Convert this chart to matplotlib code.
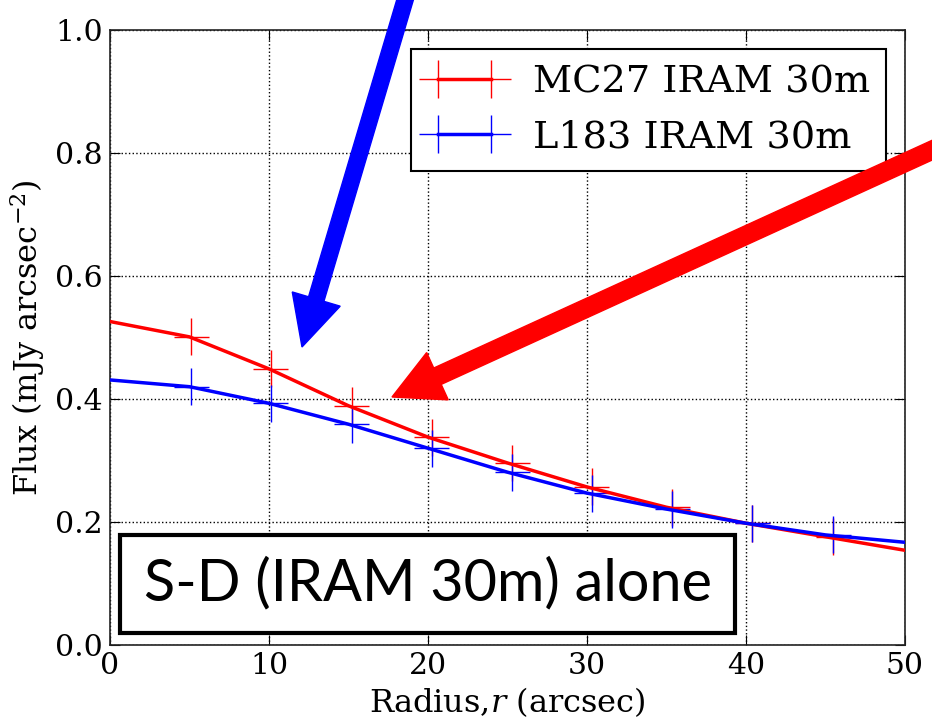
import matplotlib
matplotlib.use("Agg")
import matplotlib.pyplot as plt
from matplotlib.patches import FancyArrow, Rectangle
from matplotlib.transforms import IdentityTransform

plt.rcParams['font.family'] = 'DejaVu Serif'
plt.rcParams['mathtext.fontset'] = 'dejavuserif'

# profile values
radius = [0, 5, 10, 15, 20, 25, 30, 35, 40, 45, 50]
mc27 = [0.526, 0.501, 0.449, 0.389, 0.338, 0.296, 0.257, 0.224, 0.198, 0.176, 0.154]
l183 = [0.431, 0.420, 0.393, 0.359, 0.320, 0.281, 0.247, 0.221, 0.198, 0.179, 0.167]

# error crosses (slightly shifted from the line grid)
err_r = [5.1, 10.1, 15.2, 20.25, 25.3, 30.3, 35.35, 40.4, 45.5]
mc27_err_y = [0.501, 0.449, 0.389, 0.338, 0.296, 0.257, 0.224, 0.198, 0.176]
l183_err_y = [0.420, 0.393, 0.359, 0.320, 0.281, 0.247, 0.221, 0.198, 0.179]
xerr = 1.1
yerr = 0.03

labels = ['MC27 IRAM 30m', 'L183 IRAM 30m']
colors = ['red', 'blue']

fig = plt.figure(figsize=(9.32, 7.21), dpi=100)
ax = fig.add_axes([0.118, 0.1054, 0.853, 0.8530])

handles = []
for prof, ey, c, lab in zip([mc27, l183], [mc27_err_y, l183_err_y], colors, labels):
    ax.plot(radius, prof, color=c, lw=2.5, zorder=3)
    ax.errorbar(err_r, ey, xerr=xerr, yerr=yerr, fmt='none', ecolor=c, elinewidth=1, capsize=0, zorder=2)
    # legend-only handle (nan point, not drawn)
    h = ax.errorbar([float('nan')], [float('nan')], xerr=xerr, yerr=yerr, color=c, lw=2.5,
                    ecolor=c, elinewidth=1, capsize=0, label=lab)
    handles.append(h)

ax.set_xlim(0, 50)
ax.set_ylim(0, 1.0)
ax.set_xticks([0, 10, 20, 30, 40, 50])
ax.set_yticks([0.0, 0.2, 0.4, 0.6, 0.8, 1.0])
ax.grid(True, color='black', linestyle=':', lw=1)
ax.tick_params(direction='in', top=True, right=True, length=7, labelsize=21.5, pad=5)
for s in ax.spines.values():
    s.set_linewidth(1.2)
    s.set_color('#222222')

ax.set_xlabel('Radius,$r$ (arcsec)', fontsize=23, labelpad=4)
ax.set_ylabel('Flux (mJy arcsec$^{-2}$)', fontsize=23, labelpad=6)

leg = ax.legend(handles, labels, loc='upper right', fontsize=27.5, numpoints=2, fancybox=False,
                framealpha=1, edgecolor='black', borderaxespad=0.5)
leg.get_frame().set_linewidth(1.5)

# annotation arrows and label box, in pixel coordinates
px = IdentityTransform()
fig.add_artist(FancyArrow(408, 731, 302 - 408, 374 - 731, width=16, head_width=50, head_length=50,
                          length_includes_head=True, color='blue', transform=px, zorder=10))
fig.add_artist(FancyArrow(950, 579, 392 - 950, 324 - 579, width=18, head_width=52, head_length=50,
                          length_includes_head=True, color='red', transform=px, zorder=10))
fig.add_artist(Rectangle((120, 88), 615, 98, facecolor='white', edgecolor='black', lw=3,
                         transform=px, zorder=10))
fig.text(427.5, 137, 'S-D (IRAM 30m) alone', fontsize=41.5, family='Lato', ha='center', va='center',
         transform=px, zorder=11)

fig.savefig('out.png', dpi=100)
